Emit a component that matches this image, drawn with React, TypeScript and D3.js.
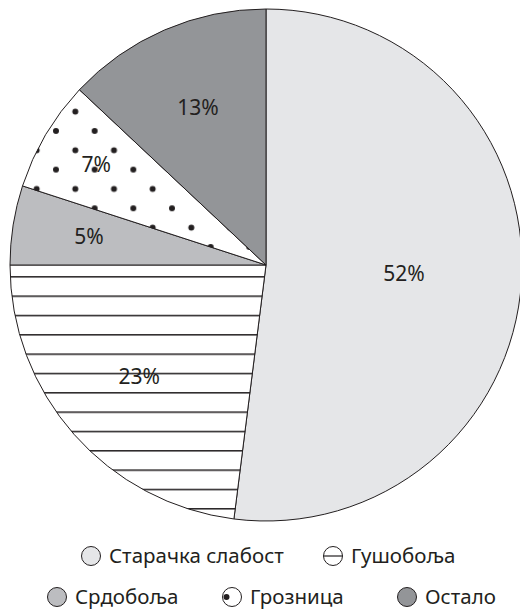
import React, { useEffect, useRef } from "react";
import * as d3 from "d3";

// slices, clockwise from 12 o'clock
const categories = ["Старачка слабост", "Гушобоља", "Срдобоља", "Грозница", "Остало"];
const values = [52, 23, 5, 7, 13];

// legend rows (indices into categories)
const legendRows = [[0, 1], [2, 3, 4]];

const fills = ["#e5e6e8", "url(#stripes)", "#bcbdc0", "url(#dots)", "#939598"];
const labelFactor = [0.54, 0.66, 0.7, 0.77, 0.67];

const W = 520;
const H = 610;
const cx = 266;
const cy = 265;
const R = 256;
const ink = "#231f20";
const font = "'Noto Sans', 'Open Sans', sans-serif";

const App: React.FC = () => {
  const svgRef = useRef<SVGSVGElement | null>(null);

  useEffect(() => {
    if (!svgRef.current) return;
    const svg = d3.select(svgRef.current);
    svg.selectAll("*").remove();

    const defs = svg.append("defs");
    const stripes = defs.append("pattern")
      .attr("id", "stripes")
      .attr("patternUnits", "userSpaceOnUse")
      .attr("x", 0).attr("y", 11.1)
      .attr("width", 40).attr("height", 19.33);
    stripes.append("rect").attr("width", 40).attr("height", 19.33).attr("fill", "#fff");
    stripes.append("rect")
      .attr("x", 0).attr("y", 0).attr("width", 40).attr("height", 1.5)
      .attr("fill", ink);

    const dots = defs.append("pattern")
      .attr("id", "dots")
      .attr("patternUnits", "userSpaceOnUse")
      .attr("x", 2.67 - 19.33).attr("y", 1.3 - 19.33)
      .attr("width", 38.67).attr("height", 38.67);
    dots.append("rect").attr("width", 38.67).attr("height", 38.67).attr("fill", "#fff");
    [[19.33, 19.33], [0, 0], [38.67, 0], [0, 38.67], [38.67, 38.67]].forEach(([x, y]) => {
      dots.append("circle").attr("cx", x).attr("cy", y).attr("r", 3).attr("fill", ink);
    });

    const pie = d3.pie<number>().sort(null).value((d) => d);
    const arcs = pie(values);
    const arc = d3.arc<d3.PieArcDatum<number>>().innerRadius(0).outerRadius(R);

    const g = svg.append("g").attr("transform", `translate(${cx},${cy})`);
    g.selectAll("path.slice")
      .data(arcs)
      .enter()
      .append("path")
      .attr("class", "slice")
      .attr("d", arc)
      .attr("fill", (_, i) => fills[i])
      .attr("stroke", ink)
      .attr("stroke-width", 1)
      .attr("stroke-linejoin", "round");

    g.selectAll("text.pct")
      .data(arcs)
      .enter()
      .append("text")
      .attr("class", "pct")
      .attr("transform", (d, i) => {
        const a = (d.startAngle + d.endAngle) / 2;
        const r = R * labelFactor[i];
        return `translate(${Math.sin(a) * r},${-Math.cos(a) * r})`;
      })
      .attr("text-anchor", "middle")
      .attr("dy", "0.35em")
      .style("font-family", font)
      .style("font-size", "21px")
      .attr("fill", ink)
      .text((d) => `${d.data}%`);

    // legend
    const rowY = [556, 597];
    const rowX = [[91, 333], [57, 232, 407]];
    legendRows.forEach((row, ri) => {
      row.forEach((ci, k) => {
        const x = rowX[ri][k];
        const y = rowY[ri];
        const lg = svg.append("g").attr("transform", `translate(${x},${y})`);
        lg.append("circle")
          .attr("r", 9.5)
          .attr("fill", ci === 1 || ci === 3 ? "#fff" : fills[ci])
          .attr("stroke", ink)
          .attr("stroke-width", 1);
        if (ci === 1) {
          lg.append("line").attr("x1", -9.5).attr("x2", 9.5).attr("y1", 0).attr("y2", 0)
            .attr("stroke", ink).attr("stroke-width", 1.2);
        }
        if (ci === 3) {
          lg.append("circle").attr("cx", -5.5).attr("cy", 0).attr("r", 3).attr("fill", ink);
        }
        lg.append("text")
          .attr("x", 18)
          .attr("dy", "0.35em")
          .style("font-family", font)
          .style("font-size", "20.5px")
          .attr("fill", ink)
          .text(categories[ci]);
      });
    });
  }, []);

  return (
    <svg
      ref={svgRef}
      width={W}
      height={H}
      style={{ position: "absolute", left: 0, top: 0, background: "#fff" }}
    />
  );
};

export default App;
